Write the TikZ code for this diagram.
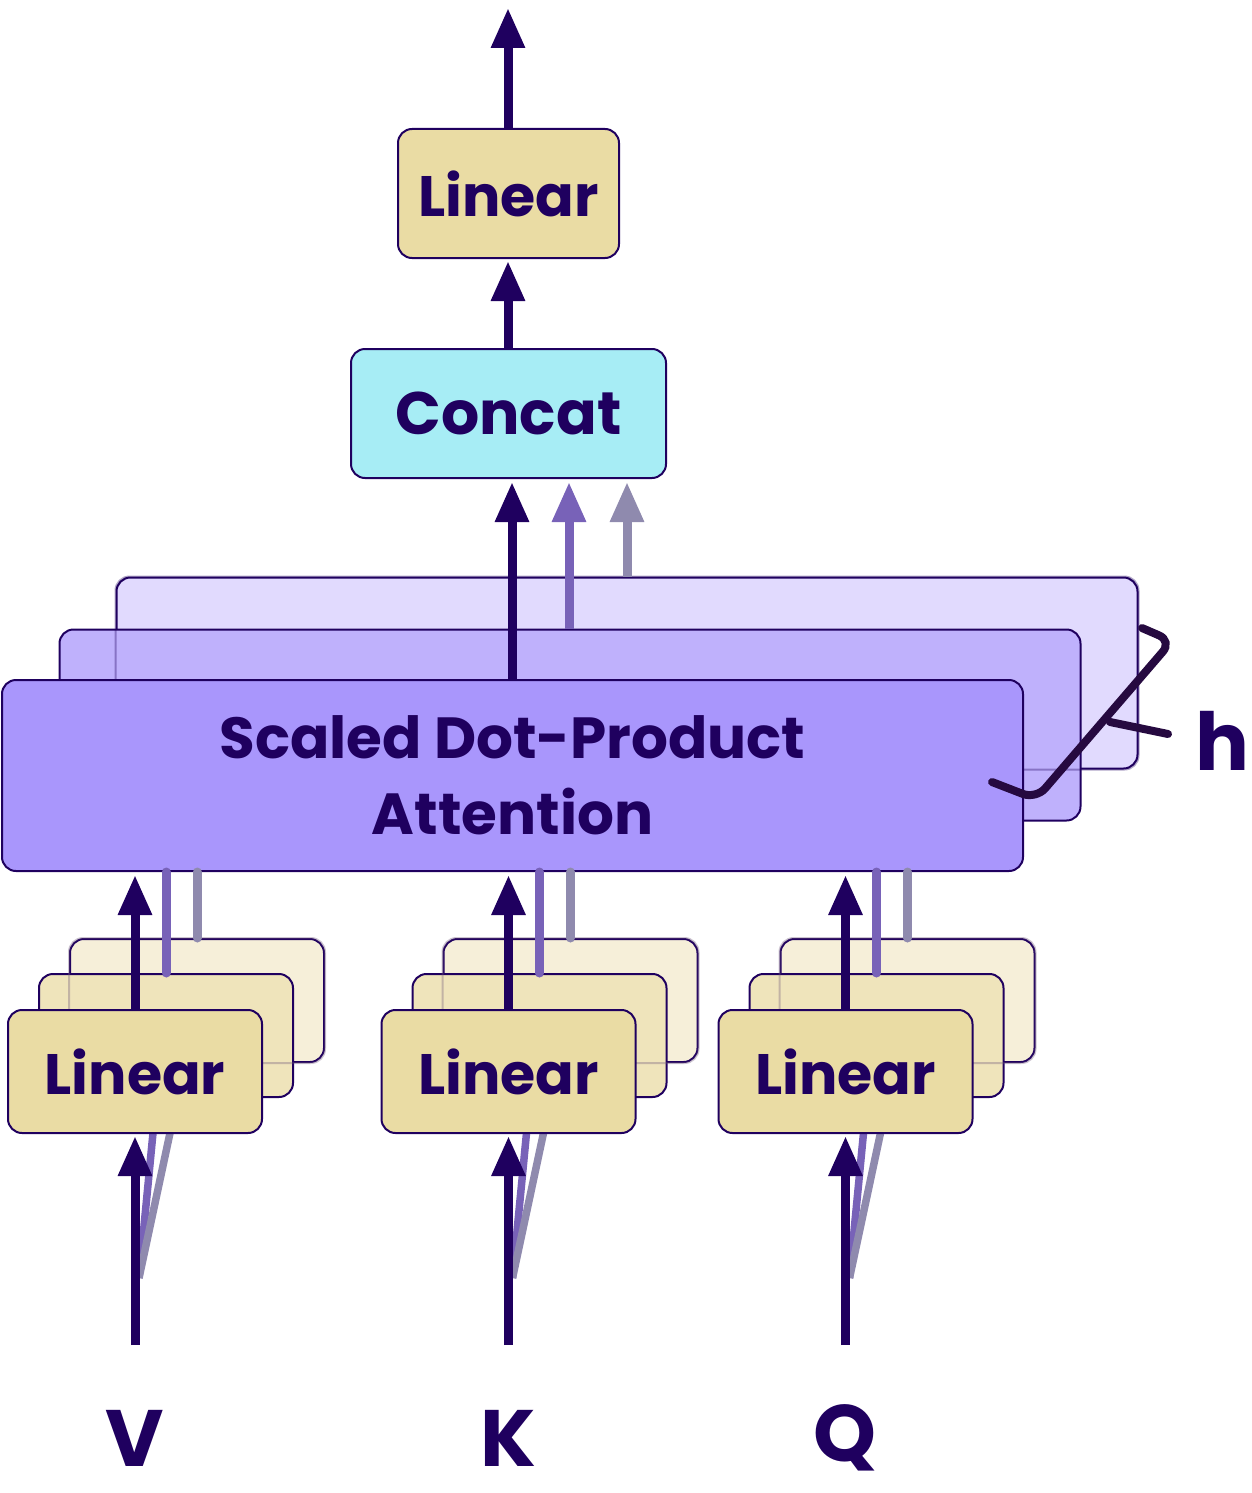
\documentclass[tikz,border=0pt]{standalone}
\usepackage{fontspec}
\setmainfont{Poppins}
\usetikzlibrary{arrows.meta,calc}
\definecolor{dk}{HTML}{1F005F}
\definecolor{hk}{HTML}{260A40}
\definecolor{linF}{HTML}{EADCA4}
\definecolor{linM}{HTML}{EFE4BB}
\definecolor{linB}{HTML}{F6EFD9}
\definecolor{concatF}{HTML}{A7EDF5}
\definecolor{sdF}{HTML}{A996FC}
\definecolor{sdM}{HTML}{BFB1FC}
\definecolor{sdB}{HTML}{E1DAFE}
\definecolor{pu}{HTML}{7862B8}
\definecolor{gr}{HTML}{8F8AAE}
\tikzset{
  box/.style={draw=dk, line width=2pt, rounded corners=14pt, inner sep=0pt, text=dk,
    font=\bfseries\fontsize{60}{72}\selectfont},
  lintext/.style={font=\bfseries\fontsize{57}{68}\selectfont},
  linbox/.style={box, minimum width=254pt, minimum height=123pt},
  sdbox/.style={box, minimum width=1021pt, minimum height=191pt},
  faint/.style={draw=#1, line width=2pt, opacity=0.35, rounded corners=14pt},
  darr/.style={draw=dk, line width=9pt, -{Triangle[length=40pt,width=32pt]}},
  parr/.style={draw=pu, line width=9pt, -{Triangle[length=40pt,width=32pt]}},
  garr/.style={draw=gr, line width=9pt, -{Triangle[length=40pt,width=32pt]}},
  pline/.style={draw=pu, line width=9pt, line cap=round},
  gline/.style={draw=gr, line width=9pt, line cap=round},
  pthin/.style={draw=pu, line width=7.5pt},
  gthin/.style={draw=gr, line width=7.5pt},
  lbl/.style={text=dk, font=\bfseries\fontsize{80}{90}\selectfont, inner sep=2pt},
}
\begin{document}
\begin{tikzpicture}[x=1pt,y=-1pt]
\useasboundingbox (0,0) rectangle (1252,1493);

% --- Scaled Dot-Product Attention stack ---
\node[sdbox, fill=sdB] (SDb) at (627,673) {};
\node[sdbox, fill=sdM] (SDm) at (570,725) {};
\draw[faint=dk] (SDb.north west) rectangle (SDb.south east);
\node[sdbox, fill=sdF, align=center, font=\bfseries\fontsize{58}{76}\selectfont] (SDf) at (512.5,775.5) {Scaled Dot-Product\\Attention};

% --- Concat and final Linear ---
\node[box, fill=concatF, minimum width=315pt, minimum height=129pt] (Cc) at (508.5,413.5) {Concat};
\node[box, lintext, fill=linF, minimum width=221pt, minimum height=129pt] (Lt) at (508.5,193.5) {Linear};
\coordinate (Out) at (508,8);

% --- arrows into Concat ---
\draw[darr, shorten >=3pt] (SDf.north -| 512,0) -- (Cc.south -| 512,0);
\draw[parr, shorten >=3pt] (SDm.north -| 569,0) -- (Cc.south -| 569,0);
\draw[garr, shorten >=3pt] (SDb.north -| 627,0) -- (Cc.south -| 627,0);
\draw[darr, shorten >=2pt] (Cc.north -| 508,0) -- (Lt.south -| 508,0);
\draw[darr] (Lt.north -| 508,0) -- (Out);

% --- h bracket ---
\coordinate (Hs) at (992,782);
\coordinate (Hc1) at (1036,799);
\coordinate (Hc2) at (1172,641);
\coordinate (He) at (1142,628);
\coordinate (Ts) at (1110,722);
\coordinate (Te) at (1168,734);
\draw[hk, line width=8pt, line cap=round, rounded corners=14pt] (Hs) -- (Hc1) -- (Hc2) -- (He);
\draw[hk, line width=8pt, line cap=round] (Ts) -- (Te);
\node[lbl] (H) at (1222,741) {h};

% --- bottom Linear stacks ---
\foreach \n/\cx/\lab in {V/135/V, K/508.5/K, Q/845.5/Q}{
  \coordinate (\n in) at (\cx,1345);
  \coordinate (\n cv) at ($(\n in)+(4,-67)$);
  \node[linbox, fill=linB] (\n b) at ($(\cx,1071.5)+(62,-71)$) {};
  \node[linbox, fill=linM] (\n m) at ($(\cx,1071.5)+(31,-36)$) {};
  \draw[faint=dk!60!linF] (\n b.north west) rectangle (\n b.south east);
  \draw[pthin] (\n cv) -- ($(\cx,1133)+(18,0)$);
  \draw[gthin] (\n cv) -- ($(\cx,1133)+(35,0)$);
  \node[linbox, lintext, fill=linF] (\n f) at (\cx,1071.5) {Linear};
  \draw[darr, shorten >=2pt] (\n in) -- (\n f.south);
  \draw[darr, shorten >=3pt] (\n f.north) -- (\n f.north |- SDf.south);
  \draw[pline] (\n m.north) -- (\n m.north |- SDf.south);
  \draw[gline] (\n b.north) -- (\n b.north |- SDf.south);
  \node[lbl] (\n lab) at (\cx,1438) {\lab};
}
\end{tikzpicture}
\end{document}
